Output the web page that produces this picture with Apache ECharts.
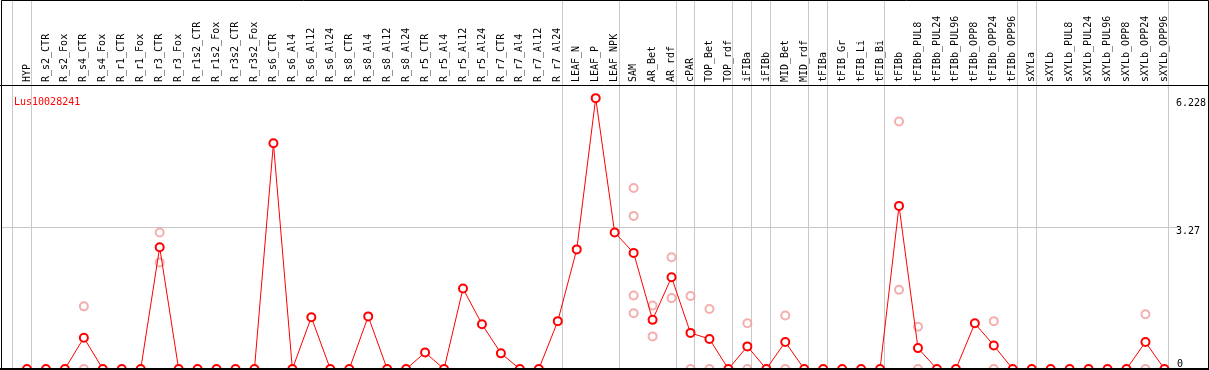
<!DOCTYPE html>
<html>
<head>
<meta charset="utf-8">
<script src="https://cdn.jsdelivr.net/npm/echarts@6/dist/echarts.min.js"></script>
<style>
html,body{margin:0;padding:0;background:#fff;}
#chart{width:1209px;height:370px;}
</style>
</head>
<body>
<div id="chart"></div>
<script>
const geneName = 'Lus10028241';
const categories = ['HYP','R_s2_CTR','R_s2_Fox','R_s4_CTR','R_s4_Fox','R_r1_CTR','R_r1_Fox','R_r3_CTR','R_r3_Fox','R_r1s2_CTR','R_r1s2_Fox','R_r3s2_CTR','R_r3s2_Fox','R_s6_CTR','R_s6_Al4','R_s6_Al12','R_s6_Al24','R_s8_CTR','R_s8_Al4','R_s8_Al12','R_s8_Al24','R_r5_CTR','R_r5_Al4','R_r5_Al12','R_r5_Al24','R_r7_CTR','R_r7_Al4','R_r7_Al12','R_r7_Al24','LEAF_N','LEAF_P','LEAF_NPK','SAM','AR_Bet','AR_rdf','cPAR','TOP_Bet','TOP_rdf','iFIBa','iFIBb','MID_Bet','MID_rdf','tFIBa','tFIB_Gr','tFIB_Li','tFIB_Bi','tFIBb','tFIBb_PUL8','tFIBb_PUL24','tFIBb_PUL96','tFIBb_OPP8','tFIBb_OPP24','tFIBb_OPP96','sXYLa','sXYLb','sXYLb_PUL8','sXYLb_PUL24','sXYLb_PUL96','sXYLb_OPP8','sXYLb_OPP24','sXYLb_OPP96'];
const meanValues = [0,0,0,0.72,0,0,0,2.80,0,0,0,0,0,5.19,0,1.19,0,0,1.21,0,0,0.38,0,1.85,1.03,0.36,0,0,1.10,2.75,6.228,3.14,2.67,1.13,2.11,0.83,0.69,0,0.52,0,0.62,0,0,0,0,0,3.75,0.48,0,0,1.05,0.54,0,0,0,0,0,0,0,0.62,0];
const replicateCategories = ['R_s4_CTR','R_s4_CTR','R_r3_CTR','R_r3_CTR','SAM','SAM','SAM','SAM','AR_Bet','AR_Bet','AR_rdf','AR_rdf','cPAR','cPAR','TOP_Bet','TOP_Bet','iFIBa','iFIBa','MID_Bet','MID_Bet','tFIBb','tFIBb','tFIBb_PUL8','tFIBb_PUL8','tFIBb_OPP24','tFIBb_OPP24','sXYLb_OPP24','sXYLb_OPP24'];
const replicateValues = [1.44,0,3.14,2.45,4.16,3.52,1.69,1.28,1.46,0.75,2.57,1.63,1.68,0,1.38,0,1.05,0,1.23,0,5.69,1.82,0.97,0,1.10,0,1.26,0];
const groupEndIndices = [-1,0,28,31,34,35,37,38,39,41,42,45,52,53,60];
const yTickValues = [3.27, 6.228];
const yZeroTick = [0];
const gridLineValues = [3.27];

const FONT = 'DejaVu Sans Mono';
const chart = echarts.init(document.getElementById('chart'), null, {renderer:'canvas'});
const n = categories.length;

const option = {
  animation: false,
  backgroundColor: '#fff',
  title: {
    text: geneName, left: 9, top: 92,
    textStyle: {color: '#ff0000', fontSize: 10, fontWeight: 'normal', fontFamily: FONT}
  },
  grid: {left: 17.5, right: 32.5, top: 85, bottom: 1, containLabel: false},
  xAxis: [
    {
      type: 'category', data: categories, position: 'top', boundaryGap: true,
      axisLine: {show: false}, axisTick: {show: false}, splitLine: {show: false},
      axisLabel: {interval: 0, rotate: 90, margin: 3, color: '#000', fontSize: 10, fontFamily: FONT}
    },
    {
      type: 'value', min: -0.5, max: n - 0.5, show: false, splitLine: {show: false}
    }
  ],
  yAxis: [
    {
      type: 'value', min: 0, max: 6.53, position: 'right',
      axisLine: {show: false}, axisTick: {show: false}, splitLine: {show: false},
      axisLabel: {customValues: yTickValues, margin: 2, verticalAlign: 'top', color: '#000', fontSize: 10, fontFamily: FONT,
        formatter: v => String(v)}
    },
    {
      type: 'value', min: 0, max: 6.53, position: 'right',
      axisLine: {show: false}, axisTick: {show: false}, splitLine: {show: false},
      axisLabel: {customValues: yZeroTick, margin: 3, verticalAlign: 'bottom', color: '#000', fontSize: 10, fontFamily: FONT,
        formatter: v => String(v)}
    }
  ],
  graphic: [
    {type: 'rect', z: 100, silent: true, shape: {x: 1.5, y: 0.5, width: 1207, height: 369},
      style: {fill: null, stroke: '#000', lineWidth: 1}},
    {type: 'line', z: 100, silent: true, shape: {x1: 0, y1: 85.5, x2: 1209, y2: 85.5},
      style: {stroke: '#000', lineWidth: 1}},
    {type: 'line', z: 100, silent: true, shape: {x1: 0, y1: 369, x2: 1209, y2: 369},
      style: {stroke: '#000', lineWidth: 2}}
  ],
  series: [
    {
      type: 'custom', xAxisIndex: 1, yAxisIndex: 0, z: 1, clip: false, silent: true,
      data: groupEndIndices.map(i => [i + 4/19, 0]),
      renderItem: function (params, api) {
        const p = api.coord([api.value(0), 0]);
        const x = Math.round(p[0]) + 0.5;
        return {type: 'line', shape: {x1: x, y1: 0, x2: x, y2: p[1]}, style: {stroke: '#c8c8c8', lineWidth: 1}};
      }
    },
    {
      type: 'custom', xAxisIndex: 1, yAxisIndex: 0, z: 1, clip: false, silent: true,
      data: gridLineValues.map(v => [0, v]),
      renderItem: function (params, api) {
        const p = api.coord([0, api.value(1)]);
        const y = Math.round(p[1]) + 0.5;
        return {type: 'line', shape: {x1: 1, y1: y, x2: 1178, y2: y}, style: {stroke: '#c8c8c8', lineWidth: 1}};
      }
    },
    {
      type: 'scatter', xAxisIndex: 0, yAxisIndex: 0, z: 3,
      data: replicateCategories.map((c, k) => [c, replicateValues[k]]),
      symbol: 'emptyCircle', symbolSize: 8,
      itemStyle: {color: '#f09a9a', borderColor: '#f09a9a', borderWidth: 1.5}
    },
    {
      type: 'line', xAxisIndex: 0, yAxisIndex: 0, z: 4,
      data: meanValues,
      symbol: 'emptyCircle', symbolSize: 8, showAllSymbol: true,
      lineStyle: {color: '#ff0000', width: 1},
      itemStyle: {color: '#ff0000', borderColor: '#ff0000', borderWidth: 1.5}
    }
  ]
};
chart.setOption(option);
</script>
</body>
</html>
